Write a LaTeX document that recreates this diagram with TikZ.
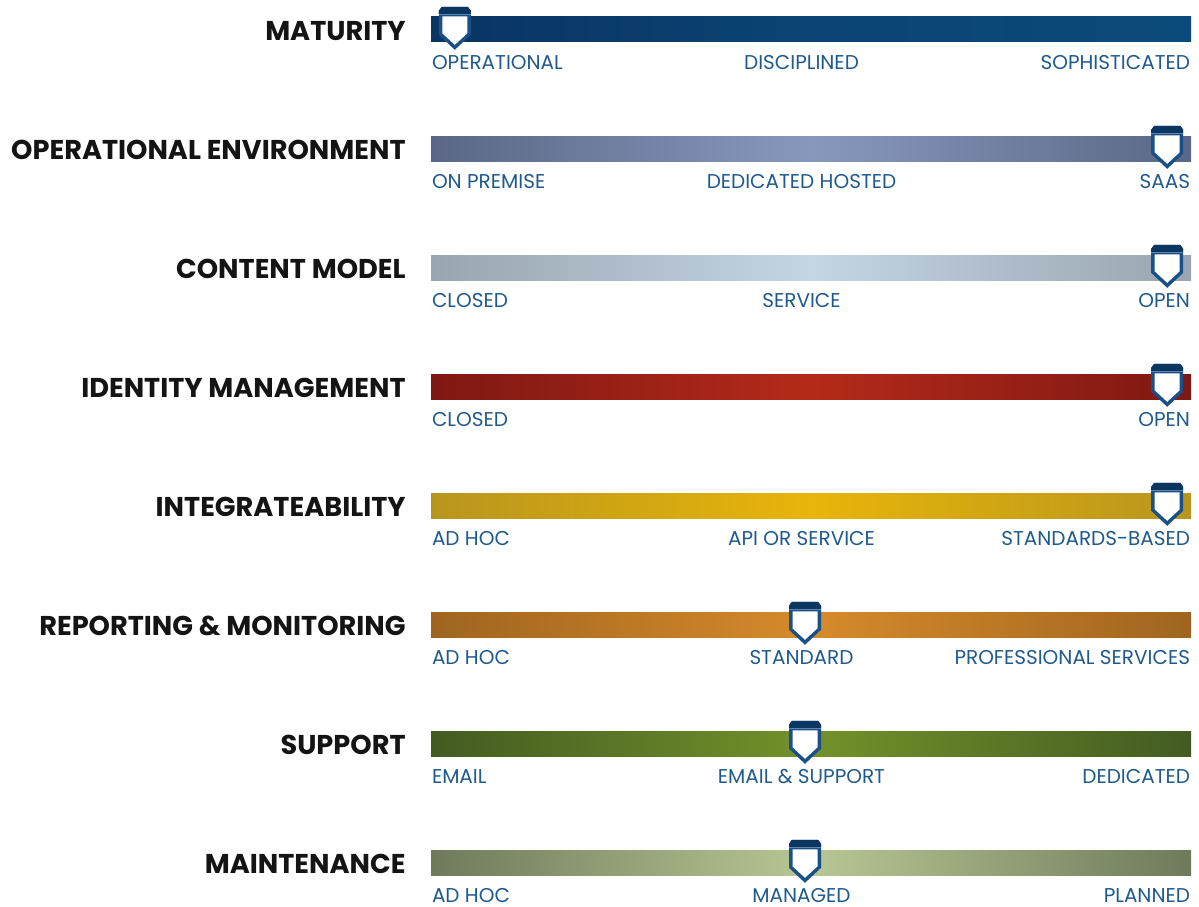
\documentclass[tikz,border=0pt]{standalone}
\usepackage{fontspec}
\setmainfont{Poppins}
\usepackage{tikz}
\usetikzlibrary{positioning,calc}

\definecolor{lblblue}{HTML}{1F5A8E}
\definecolor{pinblue}{HTML}{1A5088}
\definecolor{pincap}{HTML}{0B3660}
% bar colours: edge / middle
\definecolor{matedge}{HTML}{0A3462}
\definecolor{matmid}{HTML}{0B4474}
\definecolor{matend}{HTML}{0A4A7B}
\definecolor{envedge}{HTML}{5A6786}
\definecolor{envmid}{HTML}{8898BC}
\definecolor{conedge}{HTML}{99A5B1}
\definecolor{conmid}{HTML}{C5D5E2}
\definecolor{idedge}{HTML}{7E1812}
\definecolor{idmid}{HTML}{B42A1A}
\definecolor{intedge}{HTML}{B8951E}
\definecolor{intmid}{HTML}{E8B50A}
\definecolor{repedge}{HTML}{9F6520}
\definecolor{repmid}{HTML}{D68A2B}
\definecolor{supedge}{HTML}{435B22}
\definecolor{supmid}{HTML}{73922A}
\definecolor{mntedge}{HTML}{6E7A5A}
\definecolor{mntmid}{HTML}{B9C795}

\tikzset{
  bar/.style={rectangle, inner sep=0pt, minimum width=760pt, minimum height=25pt},
  rowtitle/.style={font=\bfseries\fontsize{27.2}{27.2}\selectfont, inner sep=0pt, text=black!92, yshift=-1.5pt},
  lbl/.style={font=\fontsize{20}{20}\selectfont, inner sep=0pt, text=lblblue},
  pin/.pic={
    % outline
    \fill[pinblue] (-16,-6) -- (-13,-10) -- (13,-10) -- (16,-6) -- (16,18) -- (0,33) -- (-16,18) -- cycle;
    % cap
    \fill[pincap] (-16,-6) -- (-13,-10) -- (13,-10) -- (16,-6) -- (16,-3) -- (-16,-3) -- cycle;
    \fill[pinblue!70!white] (-16,-3) rectangle (16,-2);
    % white inside
    \fill[white] (-12.5,-0.5) -- (12.5,-0.5) -- (12.5,16.5) -- (0,28) -- (-12.5,16.5) -- cycle;
  }
}

\begin{document}
\begin{tikzpicture}[x=1pt, y=-1pt]
    \useasboundingbox (0,0) rectangle (1199,907);

    % Maturity
    \node[bar, left color=matedge, right color=matend, middle color=matmid] (matbar) at (811,29.5) {};
    \node[rowtitle, left=25pt of matbar] (mattitle) {MATURITY};
    \node[lbl, anchor=base west] (matlo) at ($(matbar.south west)+(1,27)$) {OPERATIONAL};
    \node[lbl, anchor=base] (matmi) at ($(matbar.south)+(-9.5,27)$) {DISCIPLINED};
    \node[lbl, anchor=base east] (mathi) at ($(matbar.south east)+(-1,27)$) {SOPHISTICATED};
    \pic at ($(matbar.north west)+(24,0)$) {pin};

    % Operational environment
    \node[bar, left color=envedge, right color=envedge, middle color=envmid] (envbar) at (811,148.5) {};
    \node[rowtitle, left=25pt of envbar] (envtitle) {OPERATIONAL ENVIRONMENT};
    \node[lbl, anchor=base west] (envlo) at ($(envbar.south west)+(1,27)$) {ON PREMISE};
    \node[lbl, anchor=base] (envmi) at ($(envbar.south)+(-9.5,27)$) {DEDICATED HOSTED};
    \node[lbl, anchor=base east] (envhi) at ($(envbar.south east)+(-1,27)$) {SAAS};
    \pic at ($(envbar.north east)+(-24,0)$) {pin};

    % Content model
    \node[bar, left color=conedge, right color=conedge, middle color=conmid] (conbar) at (811,267.5) {};
    \node[rowtitle, left=25pt of conbar] (contitle) {CONTENT MODEL};
    \node[lbl, anchor=base west] (conlo) at ($(conbar.south west)+(1,27)$) {CLOSED};
    \node[lbl, anchor=base] (conmi) at ($(conbar.south)+(-9.5,27)$) {SERVICE};
    \node[lbl, anchor=base east] (conhi) at ($(conbar.south east)+(-1,27)$) {OPEN};
    \pic at ($(conbar.north east)+(-24,0)$) {pin};

    % Identity management
    \node[bar, left color=idedge, right color=idedge, middle color=idmid] (idbar) at (811,386.5) {};
    \node[rowtitle, left=25pt of idbar] (idtitle) {IDENTITY MANAGEMENT};
    \node[lbl, anchor=base west] (idlo) at ($(idbar.south west)+(1,27)$) {CLOSED};
    \node[lbl, anchor=base east] (idhi) at ($(idbar.south east)+(-1,27)$) {OPEN};
    \pic at ($(idbar.north east)+(-24,0)$) {pin};

    % Integrateability
    \node[bar, left color=intedge, right color=intedge, middle color=intmid] (intbar) at (811,505.5) {};
    \node[rowtitle, left=25pt of intbar] (inttitle) {INTEGRATEABILITY};
    \node[lbl, anchor=base west] (intlo) at ($(intbar.south west)+(1,27)$) {AD HOC};
    \node[lbl, anchor=base] (intmi) at ($(intbar.south)+(-9.5,27)$) {API OR SERVICE};
    \node[lbl, anchor=base east] (inthi) at ($(intbar.south east)+(-1,27)$) {STANDARDS-BASED};
    \pic at ($(intbar.north east)+(-24,0)$) {pin};

    % Reporting & monitoring
    \node[bar, left color=repedge, right color=repedge, middle color=repmid] (repbar) at (811,624.5) {};
    \node[rowtitle, left=25pt of repbar] (reptitle) {REPORTING \& MONITORING};
    \node[lbl, anchor=base west] (replo) at ($(repbar.south west)+(1,27)$) {AD HOC};
    \node[lbl, anchor=base] (repmi) at ($(repbar.south)+(-9.5,27)$) {STANDARD};
    \node[lbl, anchor=base east] (rephi) at ($(repbar.south east)+(-1,27)$) {PROFESSIONAL SERVICES};
    \pic at ($(repbar.north)+(-6,0)$) {pin};

    % Support
    \node[bar, left color=supedge, right color=supedge, middle color=supmid] (supbar) at (811,743.5) {};
    \node[rowtitle, left=25pt of supbar] (suptitle) {SUPPORT};
    \node[lbl, anchor=base west] (suplo) at ($(supbar.south west)+(1,27)$) {EMAIL};
    \node[lbl, anchor=base] (supmi) at ($(supbar.south)+(-9.5,27)$) {EMAIL \& SUPPORT};
    \node[lbl, anchor=base east] (suphi) at ($(supbar.south east)+(-1,27)$) {DEDICATED};
    \pic at ($(supbar.north)+(-6,0)$) {pin};

    % Maintenance
    \node[bar, left color=mntedge, right color=mntedge, middle color=mntmid] (mntbar) at (811,862.5) {};
    \node[rowtitle, left=25pt of mntbar] (mnttitle) {MAINTENANCE};
    \node[lbl, anchor=base west] (mntlo) at ($(mntbar.south west)+(1,27)$) {AD HOC};
    \node[lbl, anchor=base] (mntmi) at ($(mntbar.south)+(-9.5,27)$) {MANAGED};
    \node[lbl, anchor=base east] (mnthi) at ($(mntbar.south east)+(-1,27)$) {PLANNED};
    \pic at ($(mntbar.north)+(-6,0)$) {pin};
\end{tikzpicture}
\end{document}
